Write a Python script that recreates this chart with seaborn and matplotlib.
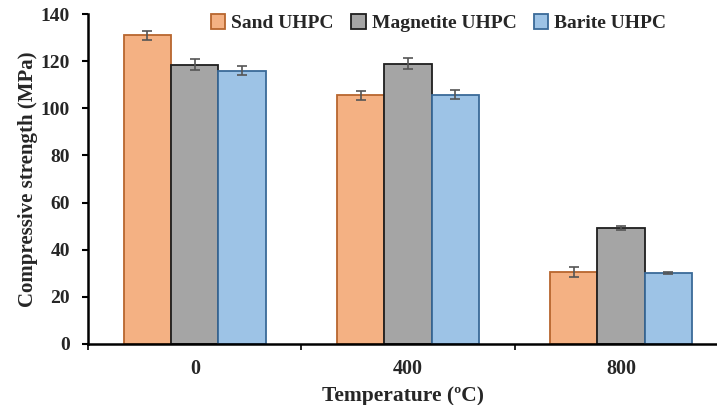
import numpy as np
import pandas as pd
import matplotlib
matplotlib.use("Agg")
import matplotlib.pyplot as plt
import seaborn as sns

# Compressive strength of UHPC mixes after exposure to elevated temperature
temperatures = ["0", "400", "800"]
mixes = ["Sand UHPC", "Magnetite UHPC", "Barite UHPC"]
sand_strength = [131.0, 105.5, 30.5]
magnetite_strength = [118.5, 119.0, 49.3]
barite_strength = [116.0, 105.8, 30.1]
sand_err = [2.0, 2.0, 2.0]
magnetite_err = [2.3, 2.3, 0.8]
barite_err = [2.0, 2.0, 0.5]

fills = {"Sand UHPC": "#F4B183", "Magnetite UHPC": "#A5A5A5", "Barite UHPC": "#9DC3E6"}
edges = {"Sand UHPC": "#B8662E", "Magnetite UHPC": "#1E1E1E", "Barite UHPC": "#3A6A98"}

values = [sand_strength, magnetite_strength, barite_strength]
errors = [sand_err, magnetite_err, barite_err]
df = pd.DataFrame({
    "Temperature": temperatures * len(mixes),
    "Mix": [m for m in mixes for _ in temperatures],
    "Strength": [v for vals in values for v in vals],
    "Err": [e for errs in errors for e in errs],
})

sns.set_theme(style="white")
plt.rcParams["font.family"] = ["Liberation Serif", "DejaVu Serif"]
plt.rcParams["font.weight"] = "bold"

fig = plt.figure(figsize=(7.17, 4.05), dpi=100)
ax = fig.add_axes([0.123, 0.151, 0.877, 0.814])

sns.barplot(data=df, x="Temperature", y="Strength", hue="Mix", order=temperatures,
            hue_order=mixes, palette=fills, width=0.667, errorbar=None,
            saturation=1, linewidth=1.3, ax=ax)

# Outline colours and error bars per series
for container, mix, errs in zip(ax.containers, mixes, errors):
    for patch, err in zip(container.patches, errs):
        patch.set_edgecolor(edges[mix])
        x = patch.get_x() + patch.get_width() / 2
        y = patch.get_height()
        ax.errorbar(x, y, yerr=err, fmt="none", ecolor="#555555",
                    elinewidth=1.2, capsize=3.5, capthick=1.2, zorder=5)

ax.set_ylim(0, 140)
ax.set_yticks(np.arange(0, 141, 20))
ax.set_xlim(-0.5, 2.45)

# Category separator ticks on the x axis
ax.set_xticks([0, 1, 2])
ax.set_xticks([-0.5, 0.5, 1.5], minor=True)
ax.tick_params(axis="x", which="major", length=0, pad=11, labelsize=14.5)
ax.tick_params(axis="x", which="minor", length=4, width=1.2, color="black",
               direction="out", bottom=True)
ax.tick_params(axis="y", length=4, width=1.5, color="black", direction="out",
               left=True, labelsize=14, pad=9)
for lbl in ax.get_xticklabels() + ax.get_yticklabels():
    lbl.set_fontweight("bold")

for side in ["top", "right"]:
    ax.spines[side].set_visible(False)
for side in ["left", "bottom"]:
    ax.spines[side].set_color("black")
    ax.spines[side].set_linewidth(1.8)

ax.set_xlabel("Temperature (\u00baC)", fontsize=15.5, fontweight="bold", labelpad=5)
ax.set_ylabel("Compressive strength (MPa)", fontsize=15, fontweight="bold", labelpad=2)

handles, labels = ax.get_legend_handles_labels()
for h, mix in zip(handles, labels):
    h.set_edgecolor(edges[mix])
ax.legend(handles, labels, ncol=3, loc="center", bbox_to_anchor=(0.557, 0.972),
          frameon=False, handlelength=0.75, handleheight=0.75, handletextpad=0.3,
          columnspacing=0.9, prop={"family": "Liberation Serif", "weight": "bold", "size": 14})

fig.savefig("out.png", dpi=100)
